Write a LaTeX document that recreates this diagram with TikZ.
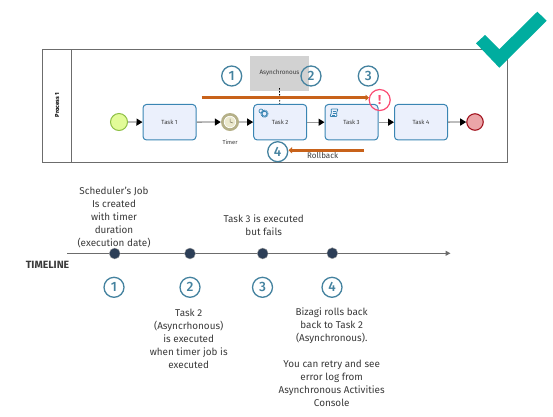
\documentclass[tikz,border=0pt]{standalone}
\usepackage{fontspec}
\setmainfont{Fira Sans}
\newfontfamily\nummedium{Fira Sans Medium}
\usetikzlibrary{arrows.meta}
\definecolor{numblue}{HTML}{44829F}
\definecolor{taskblue}{HTML}{3A85B3}
\definecolor{taskfill}{HTML}{EBF0FC}
\definecolor{orangeline}{HTML}{C8621A}
\definecolor{dotnavy}{HTML}{2C3E57}
\definecolor{textgray}{HTML}{3A3A3A}
\definecolor{checkteal}{HTML}{00AD9F}
\definecolor{errpink}{HTML}{FA4A72}
\definecolor{timerring}{HTML}{B5B088}
\definecolor{timerface}{HTML}{ECE9CE}
\definecolor{startfill}{HTML}{E2FB98}
\definecolor{startline}{HTML}{8DBF45}
\definecolor{endfill}{HTML}{EBA5A8}
\definecolor{endline}{HTML}{A31621}
\tikzset{
  x=1pt,y=-1pt,
  task/.style={draw=taskblue,fill=taskfill,line width=1pt,rounded corners=3.5pt,minimum width=53pt,minimum height=35.5pt,inner sep=0,font=\fontsize{6}{7}\selectfont,text=textgray},
  seq/.style={draw=gray!80,line width=1.3pt,-{Triangle[color=black,length=6pt,width=7pt]}},
  numc/.style={circle,draw=numblue,line width=1.3pt,minimum size=20pt,inner sep=0,text=numblue,font=\fontsize{13.5}{14}\nummedium\selectfont},
  note/.style={align=center,inner sep=0,text=textgray,font=\fontsize{9.9}{13}\selectfont},
  tdot/.style={circle,fill=dotnavy,draw=gray!70,line width=.4pt,minimum size=11pt,inner sep=0},
  orangearrow/.style={draw=orangeline,line width=2.6pt,-{Triangle[length=3.5pt,width=6pt]}},
}
\begin{document}
\begin{tikzpicture}
\useasboundingbox (0,0) rectangle (553,416);
% pool
\draw[gray!85!black,line width=.8pt] (42.7,49) rectangle (507,162);
\draw[gray!85!black,line width=.8pt] (71.7,49) -- (71.7,162);
\node[rotate=90,inner sep=0,font=\fontsize{5.8}{6}\bfseries\selectfont] (pool) at (57.2,105) {Process 1};
% gray box
\node[fill=gray!35,minimum width=59pt,minimum height=35pt,inner sep=0,font=\fontsize{6.3}{7}\selectfont,text=textgray] (async) at (279.5,73.2) {Asynchronous};
% elements
\node[circle,draw=startline,fill=startfill,line width=1pt,minimum size=17pt,inner sep=0] (start) at (119,122) {};
\node[task] (t1) at (169.5,122.2) {Task 1};
\node[circle,fill=timerring,minimum size=18pt,inner sep=0] (timer) at (230,122) {};
\node[circle,draw=white,line width=.7pt,fill=timerface,minimum size=11.5pt,inner sep=0] (clock) at (230,122) {};
\draw[timerring!70!black,line width=.5pt] (clock.center) -- ++(0,-3.5) (clock.center) -- ++(3,1);
\node[inner sep=0,font=\fontsize{5.8}{6}\selectfont,text=textgray] (timerlabel) at (230,142.5) {Timer};
\node[task] (t2) at (280.2,122.2) {Task 2};
\node[task] (t3) at (351.5,122.2) {Task 3};
\node[task] (t4) at (421,122.2) {Task 4};
\node[circle,draw=endline,fill=endfill,line width=1.1pt,minimum size=16.5pt,inner sep=0] (end) at (475,122) {};
% sequence flows
\draw[seq] (start) -- (t1);
\draw[seq] (t1) -- (timer);
\draw[seq] (timer) -- (t2);
\draw[seq] (t2) -- (t3);
\draw[seq] (t3) -- (t4);
\draw[seq] (t4) -- (end);
% association
\draw[black,dash pattern=on 1.5pt off 1.5pt,line width=.8pt] (async.center |- 0,88) -- (t2);
% icons
\node[circle,draw=taskblue,line width=.9pt,minimum size=5pt,inner sep=0] (gear1) at (264.5,113.7) {};
\node[circle,draw=taskblue,dash pattern=on .9pt off .6pt,line width=1pt,minimum size=7pt,inner sep=0] (gear2) at (264.5,113.7) {};
\node[circle,draw=taskblue,line width=.7pt,minimum size=4pt,inner sep=0] (gear3) at (261,111) {};
\draw[taskblue,line width=.8pt,rounded corners=.8pt] (331,109) -- (338,109) -- (336.5,113) -- (337,116.5) -- (330,116.5) -- (331.5,112.5) -- cycle;
\draw[taskblue,line width=.5pt] (332.5,111) -- (336,111) (332.5,113) -- (335.5,113) (332.2,115) -- (335.2,115);
% orange arrows
\coordinate (aS) at (201.7,97.7);
\coordinate (aE) at (369,97.7);
\draw[orangearrow] (aS) -- (aE);
\coordinate (bS) at (364,150.3);
\coordinate (bE) at (288.5,150.3);
\draw[orangearrow] (bS) -- (bE);
\node[inner sep=0,font=\fontsize{8}{9}\selectfont,text=textgray] (rb) at (322.7,155.5) {Rollback};
% numbers top
\node[numc] (n1) at (231.7,76) {1};
\node[numc] (n2) at (311,76) {2};
\node[numc] (n3) at (368.3,76) {3};
\node[numc,fill=white] (n4) at (277.7,151.7) {4};
% error
\node[circle,draw=errpink,line width=1.2pt,minimum size=21pt,inner sep=0,text=errpink,font=\fontsize{13}{14}\bfseries\selectfont] (err) at (379.7,100) {!};
% check
\fill[checkteal] (476,43.3) -- (485,35) -- (499.3,49.3) -- (537.3,11.7) -- (546.7,20.7) -- (499.3,67.7) -- cycle;
% timeline
\coordinate (tlS) at (67,253.3);
\coordinate (tlE) at (450.5,253.3);
\draw[gray!85!black,line width=1.2pt,-{Triangle[length=5pt,width=5pt]}] (tlS) -- (tlE);
\node[tdot] (d1) at (114.7,253.5) {};
\node[tdot] (d2) at (190,253.5) {};
\node[tdot] (d3) at (262.7,253.5) {};
\node[tdot] (d4) at (332.3,253.2) {};
\node[inner sep=0,font=\fontsize{10.5}{12}\bfseries\selectfont,text=textgray] (tl) at (47.5,265.3) {TIMELINE};
\node[numc] (m1) at (114,287.3) {1};
\node[numc] (m2) at (190,287.3) {2};
\node[numc] (m3) at (262.5,287.3) {3};
\node[numc] (m4) at (332,287.3) {4};
\node[note,anchor=south] (s1) at (114,248.5) {Scheduler's Job\\Is created\\with timer\\duration\\(execution date)};
\node[note,anchor=north] (s2) at (188.7,308.5) {Task 2\\(Asyncrhonous)\\is executed\\when timer job is\\executed};
\node[note,anchor=south] (s3) at (263.7,235.5) {Task 3 is executed\\but fails};
\node[note,anchor=north] (s4) at (331.7,308) {Bizagi rolls back\\back to Task 2\\(Asynchronous).\\[13pt]You can retry and see\\error log from\\Asynchronous Activities\\Console};
\end{tikzpicture}
\end{document}
